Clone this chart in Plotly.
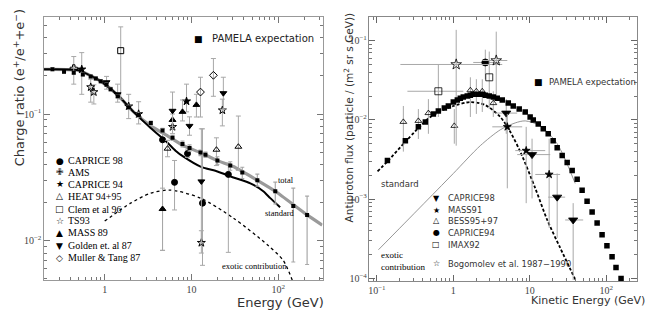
import plotly.graph_objects as go

W, H = 654, 323
OFF = 8  # page body margin of the html page
FW, FH = W - OFF, H - OFF

# ---------------- left panel: positron charge ratio ----------------
total_E = [0.20, 0.50, 0.90, 1.41, 2.15, 3.38, 5.3, 8.09, 12.7, 19.9, 30.4, 57.4, 92.4, 215, 321]
total_R = [0.225, 0.221, 0.181, 0.141, 0.104, 0.0806, 0.0673, 0.0562, 0.0496, 0.0429, 0.0385,
           0.0300, 0.0246, 0.0160, 0.0133]

std_E = [0.20, 0.50, 0.90, 1.41, 2.15, 3.38, 5.3, 6.55, 8.09, 12.7, 19.9, 30.4, 47.7, 67.2, 80.9, 105]
std_R = [0.225, 0.221, 0.181, 0.141, 0.104, 0.0777, 0.0593, 0.0514, 0.0461, 0.0385, 0.0352,
         0.0316, 0.0284, 0.0246, 0.0217, 0.0184]

exo_E = [1.0, 1.99, 3.38, 5.7, 12.7, 30.4, 74.8, 114, 145]
exo_R = [0.0143, 0.0198, 0.0237, 0.0251, 0.0217, 0.0151, 0.0093, 0.0070, 0.0049]

pam_E = [0.25, 0.34, 0.44, 0.56, 0.69, 0.79, 0.90, 1.05, 1.17, 1.41, 1.89, 2.46, 3.4,
         4.64, 6.05, 7.88, 9.5, 12.7, 14.5, 19.9, 28.0, 38.5, 57.4, 92.4, 149, 215]
pam_R = [0.225, 0.215, 0.212, 0.205, 0.198, 0.191, 0.181, 0.170, 0.157, 0.138, 0.113, 0.098,
         0.085, 0.074, 0.065, 0.058, 0.054, 0.0496, 0.0478, 0.0429, 0.0392, 0.0346, 0.0300,
         0.0246, 0.0188, 0.0160]
pam_hi = [0.23, 0.22, 0.217, 0.21, 0.203, 0.196, 0.186, 0.175, 0.162, 0.142, 0.117, 0.101,
          0.088, 0.077, 0.068, 0.061, 0.057, 0.052, 0.050, 0.046, 0.042, 0.038, 0.0335,
          0.029, 0.026, 0.0225]
pam_lo = [0.22, 0.21, 0.207, 0.20, 0.193, 0.186, 0.176, 0.165, 0.152, 0.134, 0.109, 0.095,
          0.082, 0.071, 0.062, 0.055, 0.051, 0.047, 0.0455, 0.040, 0.036, 0.031, 0.027,
          0.0195, 0.0068, 0.0065]

left_sets = {
    "CAPRICE 98": dict(E=[4.64, 6.38, 9.0, 13.4, 26.6],
                       R=[0.0626, 0.0289, 0.0487, 0.0198, 0.0334],
                       hi=[0.0764, 0.043, 0.052, 0.0764, 0.041],
                       lo=[0.0084, 0.0175, 0.0455, 0.0064, 0.0081]),
    "AMS": dict(E=[0.44], R=[0.229], hi=[0.284], lo=[0.172]),
    "CAPRICE 94": dict(E=[0.544, 6.05, 8.77], R=[0.225, 0.0792, 0.126],
                       hi=[0.305, 0.09, 0.172], lo=[0.143, 0.07, 0.104]),
    "HEAT 94+95": dict(E=[5.3, 19.4, 34.7], R=[0.0533, 0.0523, 0.0552],
                       hi=[0.062, 0.0649, 0.0964], lo=[0.046, 0.0392, 0.0359]),
    "Clem et al 96": dict(E=[1.53], R=[0.316], hi=[0.487], lo=[0.131]),
    "TS93": dict(E=[0.69, 0.75, 1.89, 2.46, 22.7, 13.0],
                 R=[0.163, 0.149, 0.115, 0.100, 0.107, 0.00964],
                 hi=[0.188, 0.17, 0.143, 0.125, 0.131, 0.012],
                 lo=[0.124, 0.12, 0.092, 0.0835, 0.0806, 0.008]),
    "MASS 89": dict(E=[11.4, 7.88, 6.05, 4.64], R=[0.118, 0.104, 0.0898, 0.0178],
                    hi=[0.143, 0.129, 0.10, 0.026], lo=[0.0947, 0.0882, 0.08, 0.0084]),
    "Golden et. al 87": dict(E=[1.05, 1.41, 6.05, 9.49, 23.3, 13.0],
                             R=[0.178, 0.143, 0.106, 0.0806, 0.146, 0.0294],
                             hi=[0.198, 0.172, 0.149, 0.095, 0.195, 0.0764],
                             lo=[0.157, 0.124, 0.0764, 0.068, 0.109, 0.00964]),
    "Muller & Tang 87": dict(E=[17.9, 12.7], R=[0.202, 0.149],
                             hi=[0.274, 0.195], lo=[0.138, 0.0947]),
}
left_symbols = {
    "CAPRICE 98": ("circle", "●"), "AMS": ("cross-open", "✙"), "CAPRICE 94": ("star", "★"),
    "HEAT 94+95": ("triangle-up-open", "△"), "Clem et al 96": ("square-open", "□"),
    "TS93": ("star-open", "☆"), "MASS 89": ("triangle-up", "▲"),
    "Golden et. al 87": ("triangle-down", "▼"), "Muller & Tang 87": ("diamond-open", "◇"),
}

# ---------------- right panel: antiproton flux ----------------
rstd_E = [0.102, 0.1375, 0.243, 0.501, 1.0, 1.67, 2.62, 4.11, 5.55, 7.50, 11.8, 16.9, 24.9, 39.2]
rstd_F = [0.00224, 0.00299, 0.00546, 0.0109, 0.0150, 0.0168, 0.0154, 0.0109, 0.00708,
          0.00398, 0.00137, 0.000546, 0.000244, 0.0000972]

rexo_E = [0.105, 0.371, 1.0, 2.25, 4.11, 6.45, 8.71, 13.7, 22.8, 39.2]
rexo_F = [0.000230, 0.000794, 0.00211, 0.00473, 0.0075, 0.00917, 0.00972, 0.00841,
          0.00501, 0.00158]

rpam_E = [0.1375, 0.236, 0.349, 0.431, 0.548, 0.637, 0.763, 0.861, 1.0, 1.128, 1.234, 1.35,
          1.52, 1.67, 1.82, 2.12, 2.39, 2.62, 2.95, 3.33, 3.75, 4.36, 5.23, 6.07, 7.27, 8.71,
          10.1, 11.1, 12.9, 15.0, 17.4, 20.2, 22.8, 26.5, 30.8, 35.8, 41.6, 48.3, 56.1, 65.3,
          75.9, 88.1, 102, 119, 134, 156]
rpam_F = [0.00307, 0.00546, 0.00818, 0.00944, 0.0119, 0.0130, 0.0141, 0.0150, 0.0168, 0.0178,
          0.0188, 0.0194, 0.0200, 0.0205, 0.0211, 0.0211, 0.0211, 0.0205, 0.0200, 0.0194,
          0.0188, 0.0178, 0.0163, 0.0150, 0.0137, 0.0126, 0.0109, 0.0100, 0.00891, 0.00772,
          0.00668, 0.00546, 0.00447, 0.00355, 0.00290, 0.00230, 0.00178, 0.00130, 0.000944,
          0.000688, 0.000501, 0.000355, 0.000259, 0.000188, 0.000137, 0.000100]

right_sets = {
    "CAPRICE98": dict(E=[4.92, 10.7, 22.8, 36.9], F=[0.0122, 0.00365, 0.00106, 0.000546],
                      Elo=[3.53, 6.84, 17.4, 29.0], Ehi=[6.84, 18.5, 29.0, 49.9],
                      hi=[0.0183, 0.0058, 0.00211, 0.000891], lo=[0.00668, 0.00102, 0.000325, 0.0000955]),
    "MASS91": dict(E=[5.08, 8.97, 17.9], F=[0.00818, 0.0041, 0.00205],
                   Elo=[3.23, 6.45, 11.8], Ehi=[7.95, 15.9, 24.9],
                   hi=[0.0119, 0.00818, 0.0058], lo=[0.00137, 0.00089, 0.000436]),
    "BESS95+97": dict(E=[0.222, 0.349, 0.472, 1.03, 1.67, 2.0, 2.39, 3.33],
                      F=[0.00944, 0.00972, 0.0122, 0.00841, 0.0237, 0.0230, 0.0230, 0.0163],
                      Elo=None, Ehi=None,
                      hi=[0.0150, 0.0137, 0.0183, 0.0137, 0.0345, 0.0326, 0.0326, 0.0230],
                      lo=[0.00398, 0.00575, 0.00668, 0.00501, 0.0109, 0.0119, 0.0126, 0.0109]),
    "CAPRICE94": dict(E=[2.62], F=[0.0531], Elo=[1.82], Ehi=[4.11], hi=[0.077], lo=[0.0325]),
    "IMAX92": dict(E=[0.637, 2.95], F=[0.0230, 0.0345], Elo=[0.251, 2.95], Ehi=[1.35, 2.95],
                   hi=[0.0501, 0.0729], lo=[0.0109, 0.0137]),
    "Bogomolev et al. 1987−1990": dict(E=[1.09, 3.64], F=[0.0501, 0.0562],
                                      Elo=[0.203, 2.39], Ehi=[4.36, 5.08],
                                      hi=[0.137, 0.13], lo=[0.00473, 0.02]),
}
right_symbols = {
    "CAPRICE98": ("triangle-down", "▼", 8), "MASS91": ("star", "★", 6),
    "BESS95+97": ("triangle-up-open", "△", 6), "CAPRICE94": ("circle", "●", 7),
    "IMAX92": ("square-open", "□", 7), "Bogomolev et al. 1987−1990": ("star-open", "☆", 8),
}

ERR = "#a8a8a8"
SERIF = "Liberation Serif"
SANS = "DejaVu Sans"

fig = go.Figure()

# left curves
fig.add_trace(go.Scatter(x=total_E, y=total_R, mode="lines",
                         line=dict(color="#9a9a9a", width=3.2, shape="spline", smoothing=0.5),
                         xaxis="x", yaxis="y", showlegend=False))
fig.add_trace(go.Scatter(x=std_E, y=std_R, mode="lines",
                         line=dict(color="black", width=2, shape="spline", smoothing=0.5),
                         xaxis="x", yaxis="y", showlegend=False))
fig.add_trace(go.Scatter(x=exo_E, y=exo_R, mode="lines",
                         line=dict(color="black", width=1.3, dash="dot", shape="spline", smoothing=0.8),
                         xaxis="x", yaxis="y", showlegend=False))

for name, d in left_sets.items():
    sym, _ = left_symbols[name]
    fig.add_trace(go.Scatter(
        x=d["E"], y=d["R"], mode="markers", xaxis="x", yaxis="y", showlegend=False,
        marker=dict(symbol=sym, size=6, color="black", line=dict(color="black", width=1)),
        error_y=dict(type="data", symmetric=False,
                     array=[h - r for h, r in zip(d["hi"], d["R"])],
                     arrayminus=[r - l for r, l in zip(d["R"], d["lo"])],
                     color=ERR, thickness=1, width=2.5)))

fig.add_trace(go.Scatter(
    x=pam_E, y=pam_R, mode="markers", xaxis="x", yaxis="y", showlegend=False,
    marker=dict(symbol="square", size=4, color="black"),
    error_y=dict(type="data", symmetric=False,
                 array=[h - r for h, r in zip(pam_hi, pam_R)],
                 arrayminus=[r - l for r, l in zip(pam_R, pam_lo)],
                 color=ERR, thickness=1.2, width=2)))

# right curves
fig.add_trace(go.Scatter(x=rexo_E, y=rexo_F, mode="lines",
                         line=dict(color="#8a8a8a", width=0.9, shape="spline", smoothing=0.8),
                         xaxis="x2", yaxis="y2", showlegend=False))
fig.add_trace(go.Scatter(x=rstd_E, y=rstd_F, mode="lines",
                         line=dict(color="black", width=1.8, dash="3px,2px", shape="spline", smoothing=0.8),
                         xaxis="x2", yaxis="y2", showlegend=False))

for name, d in right_sets.items():
    sym, _, size = right_symbols[name]
    ex = None
    if d["Elo"] is not None:
        ex = dict(type="data", symmetric=False,
                  array=[h - e for h, e in zip(d["Ehi"], d["E"])],
                  arrayminus=[e - l for e, l in zip(d["E"], d["Elo"])],
                  color=ERR, thickness=1, width=0)
    fig.add_trace(go.Scatter(
        x=d["E"], y=d["F"], mode="markers", xaxis="x2", yaxis="y2", showlegend=False,
        marker=dict(symbol=sym, size=size, color="black", line=dict(color="black", width=0.8)),
        error_x=ex,
        error_y=dict(type="data", symmetric=False,
                     array=[h - f for h, f in zip(d["hi"], d["F"])],
                     arrayminus=[f - l for f, l in zip(d["F"], d["lo"])],
                     color=ERR, thickness=1, width=0)))

fig.add_trace(go.Scatter(x=rpam_E, y=rpam_F, mode="markers", xaxis="x2", yaxis="y2", showlegend=False,
                         marker=dict(symbol="square", size=5.5, color="black")))


def px(x):
    return (x - OFF) / FW


def py(y):
    return 1 - (y - OFF) / FH


ann = []


def label(x, y, text, size, family=SANS, anchor="left", color="black", angle=0):
    ann.append(dict(x=px(x), y=py(y), xref="paper", yref="paper", text=text, showarrow=False,
                    xanchor=anchor, yanchor="middle", textangle=angle,
                    font=dict(family=family, size=size, color=color)))


# left legend
rows = [162, 174, 186, 198, 211, 223, 235, 248, 260]
for (name, (sym, glyph)), yy in zip(left_symbols.items(), rows):
    label(59, yy, glyph, 9, family=SANS, anchor="center")
    label(65, yy, name, 10, family=SERIF)
label(198, 39, "■", 9, anchor="center")
label(209, 39, "PAMELA expectation", 10, family=SANS, color="#222")
label(285, 182, "total", 8.5, family=SERIF, anchor="center")
label(279, 215, "standard", 8.5, family=SERIF, anchor="center")
label(254, 268, "exotic contribution", 8.5, family=SERIF, anchor="center")
label(18, 88, "Charge ratio (e<sup>+</sup>/e<sup>+</sup>+e<sup>−</sup>)", 13, family=SANS, anchor="center",
      color="#333", angle=-90)
label(280, 305, "Energy (GeV)", 13, family=SANS, anchor="center", color="#333")

# right legend
rrows = [200, 212, 223, 235, 247, 266]
for (name, (sym, glyph, _)), yy in zip(right_symbols.items(), rrows):
    label(436, yy, glyph, 8, family=SANS, anchor="center")
    label(446, yy, name, 8.4, family=SANS, color="#333")
label(538, 83, "■", 9, anchor="center")
label(547, 83, "PAMELA expectation", 8.5, family=SANS, color="#333")
label(379, 186, "standard", 8.5, family=SANS, color="#333")
label(379, 257, "exotic", 9, family=SERIF)
label(379, 269, "contribution", 9, family=SERIF)
label(348, 118, "Antiproton flux (particle / (m<sup>2</sup> sr s GeV))", 10.5, family=SANS, anchor="center",
      color="#333", angle=-90)
label(588, 303, "Kinetic Energy (GeV)", 11, family=SANS, anchor="center", color="#333")

axis_common = dict(type="log", dtick=1, exponentformat="power", showgrid=False, zeroline=False,
                   showline=True, mirror="allticks", ticks="inside", ticklen=6, tickwidth=1,
                   tickfont=dict(family=SERIF, size=8, color="#444"),
                   minor=dict(ticks="inside", ticklen=3, tickcolor="#777", showgrid=False))

fig.update_layout(
    width=FW, height=FH, margin=dict(l=0, r=0, t=0, b=0),
    paper_bgcolor="white", plot_bgcolor="white", showlegend=False,
    xaxis=dict(axis_common, domain=[px(43), px(322)], range=[-0.70, 2.51], anchor="y",
               linecolor="#999", tickcolor="#777"),
    yaxis=dict(axis_common, domain=[py(283), py(17)], range=[-2.3125, -0.234], anchor="x",
               linecolor="#999", tickcolor="#777"),
    xaxis2=dict(axis_common, domain=[px(369), px(637)], range=[-1.097, 2.402], anchor="y2",
                linecolor="#888", tickcolor="#666"),
    yaxis2=dict(axis_common, domain=[py(284), py(17)], range=[-4.0375, -0.7], anchor="x2",
                linecolor="#888", tickcolor="#666"),
    annotations=ann,
)

fig.write_html("out.html")
